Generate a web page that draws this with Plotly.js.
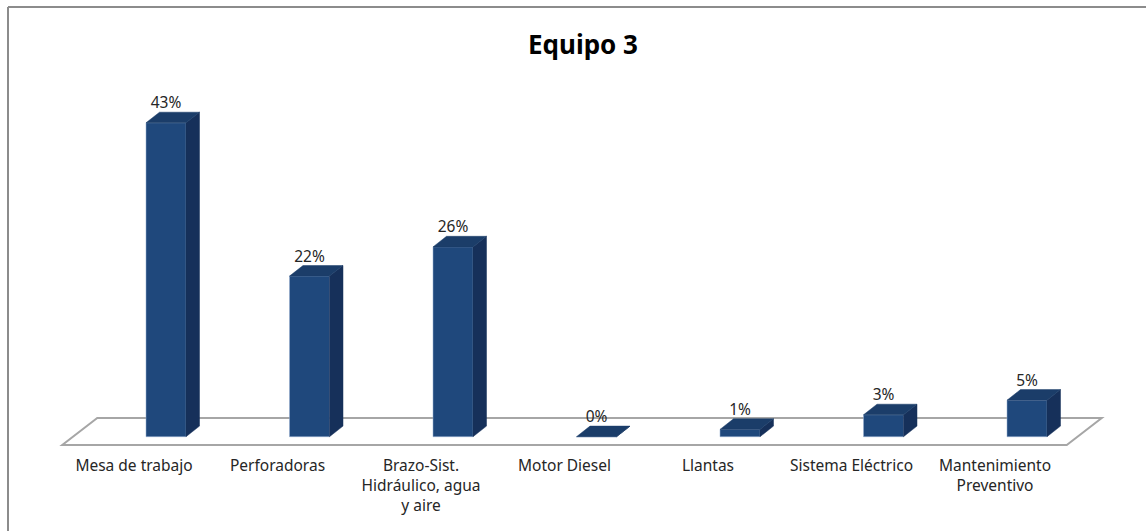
<!DOCTYPE html>
<html>
<head>
<meta charset="utf-8">
<script src="https://cdn.plot.ly/plotly-3.0.1.min.js"></script>
<style>
  html, body { margin: 0; padding: 0; background: #ffffff; overflow: hidden; }
  #chart { width: 1146px; height: 531px; }
</style>
</head>
<body>
<div id="chart"></div>
<script>
// Failure share per component, team 3
const categories = ['Mesa de trabajo', 'Perforadoras', 'Brazo-Sist. Hidráulico, agua y aire',
  'Motor Diesel', 'Llantas', 'Sistema Eléctrico', 'Mantenimiento Preventivo'];
const tickLabels = ['Mesa de trabajo', 'Perforadoras', 'Brazo-Sist.<br>Hidráulico, agua<br>y aire',
  'Motor Diesel', 'Llantas', 'Sistema Eléctrico', 'Mantenimiento<br>Preventivo'];
const values = [43, 22, 26, 0, 1, 3, 5];
const valueLabels = values.map(v => v + '%');

// ---- layout geometry ----
const W = 1146, H = 531;
const M = { l: 50, r: 30, t: 60, b: 81 };
const PW = W - M.l - M.r, PH = H - M.t - M.b;
const SLOT_PX = 143.5;       // pixels per category slot
const SLOT0_PX = 134;        // pixel x of first slot centre
const PCT_PX = 7.3;          // pixels per percentage point
const BASE_PX = 436.7;       // pixel y of the bar base line

const xRange = [(M.l - SLOT0_PX) / SLOT_PX, (W - M.r - SLOT0_PX) / SLOT_PX];
const yRange = [(BASE_PX - (H - M.b)) / PCT_PX, (BASE_PX - M.t) / PCT_PX];

// 3-D look: bar placement inside the slot and depth of the extruded faces
const BAR_SHIFT = 0.223;
const BAR_W = 40 / SLOT_PX;
const DX = 13.5 / SLOT_PX;
const DY = 10.6 / PCT_PX;

// floor plate
const FLOOR_FRONT = (BASE_PX - 445) / PCT_PX;
const FLOOR_BACK = (BASE_PX - 418) / PCT_PX;
const FLOOR_DX = 35 / SLOT_PX;

const FRONT = '#1f487c', TOP = '#1b3d69', SIDE = '#16305a';

const idx = categories.map((_, i) => i);
const centers = idx.map(i => i + BAR_SHIFT);

// top and side faces as filled polygons, one per bar
const topX = [], topY = [], sideX = [], sideY = [];
centers.forEach((c, i) => {
  const v = values[i];
  const xl = c - BAR_W / 2, xr = c + BAR_W / 2;
  topX.push(xl, xr, xr + DX, xl + DX, xl, null);
  topY.push(v, v, v + DY, v + DY, v, null);
  sideX.push(xr, xr, xr + DX, xr + DX, xr, null);
  sideY.push(0, v, v + DY, DY, 0, null);
});

const traces = [
  {
    type: 'bar', x: centers, y: values, width: BAR_W, base: 0,
    marker: { color: FRONT, line: { color: 'rgba(150,175,210,0.9)', width: 0.6 } },
    hoverinfo: 'skip', showlegend: false
  },
  {
    type: 'scatter', mode: 'lines', x: sideX, y: sideY, fill: 'toself',
    fillcolor: SIDE, line: { color: SIDE, width: 0.5 }, hoverinfo: 'skip', showlegend: false
  },
  {
    type: 'scatter', mode: 'lines', x: topX, y: topY, fill: 'toself',
    fillcolor: TOP, line: { color: TOP, width: 0.5 }, hoverinfo: 'skip', showlegend: false
  },
  {
    type: 'scatter', mode: 'text', x: centers, y: values.map(v => v + DY), text: valueLabels,
    textposition: 'top center', cliponaxis: false,
    textfont: { family: 'Noto Sans', size: 15.5, color: '#262626' },
    hoverinfo: 'skip', showlegend: false
  }
];

const n = categories.length;
const floorPath = 'M ' + (-0.5) + ',' + FLOOR_FRONT +
  ' L ' + (n - 0.5) + ',' + FLOOR_FRONT +
  ' L ' + (n - 0.5 + FLOOR_DX) + ',' + FLOOR_BACK +
  ' L ' + (-0.5 + FLOOR_DX) + ',' + FLOOR_BACK + ' Z';

// outer frame (left and top edges only are inside the page)
const fx = (8 - M.l) / PW, fy = (H - M.b - 7) / PH;
const fyBottom = (H - M.b - H - 10) / PH, fxRight = (W + 10 - M.l) / PW;

const layout = {
  width: W, height: H,
  margin: M,
  paper_bgcolor: '#ffffff', plot_bgcolor: 'rgba(0,0,0,0)',
  title: {
    text: '<b>Equipo 3</b>', x: 0.5, xref: 'paper', y: 1 - 45 / H, yref: 'container',
    xanchor: 'center', yanchor: 'middle',
    font: { family: 'Noto Sans', size: 26, color: '#000000' }
  },
  xaxis: {
    range: xRange, tickmode: 'array', tickvals: idx, ticktext: tickLabels,
    showgrid: false, zeroline: false, showline: false, ticks: '',
    tickfont: { family: 'Noto Sans', size: 15.5, color: '#262626' },
    ticklabelstandoff: 4, fixedrange: true
  },
  yaxis: {
    range: yRange, visible: false, showgrid: false, zeroline: false, fixedrange: true
  },
  bargap: 0,
  shapes: [
    {
      type: 'path', xref: 'x', yref: 'y', path: floorPath, layer: 'below',
      fillcolor: '#ffffff', line: { color: '#a6a6a6', width: 2 }
    },
    {
      type: 'line', xref: 'paper', yref: 'paper', x0: fx, x1: fx, y0: fy, y1: fyBottom,
      line: { color: '#8c8c8c', width: 2 }
    },
    {
      type: 'line', xref: 'paper', yref: 'paper', x0: fx, x1: fxRight, y0: fy, y1: fy,
      line: { color: '#8c8c8c', width: 2 }
    }
  ]
};

Plotly.newPlot('chart', traces, layout, { displayModeBar: false, staticPlot: true });
</script>
</body>
</html>
